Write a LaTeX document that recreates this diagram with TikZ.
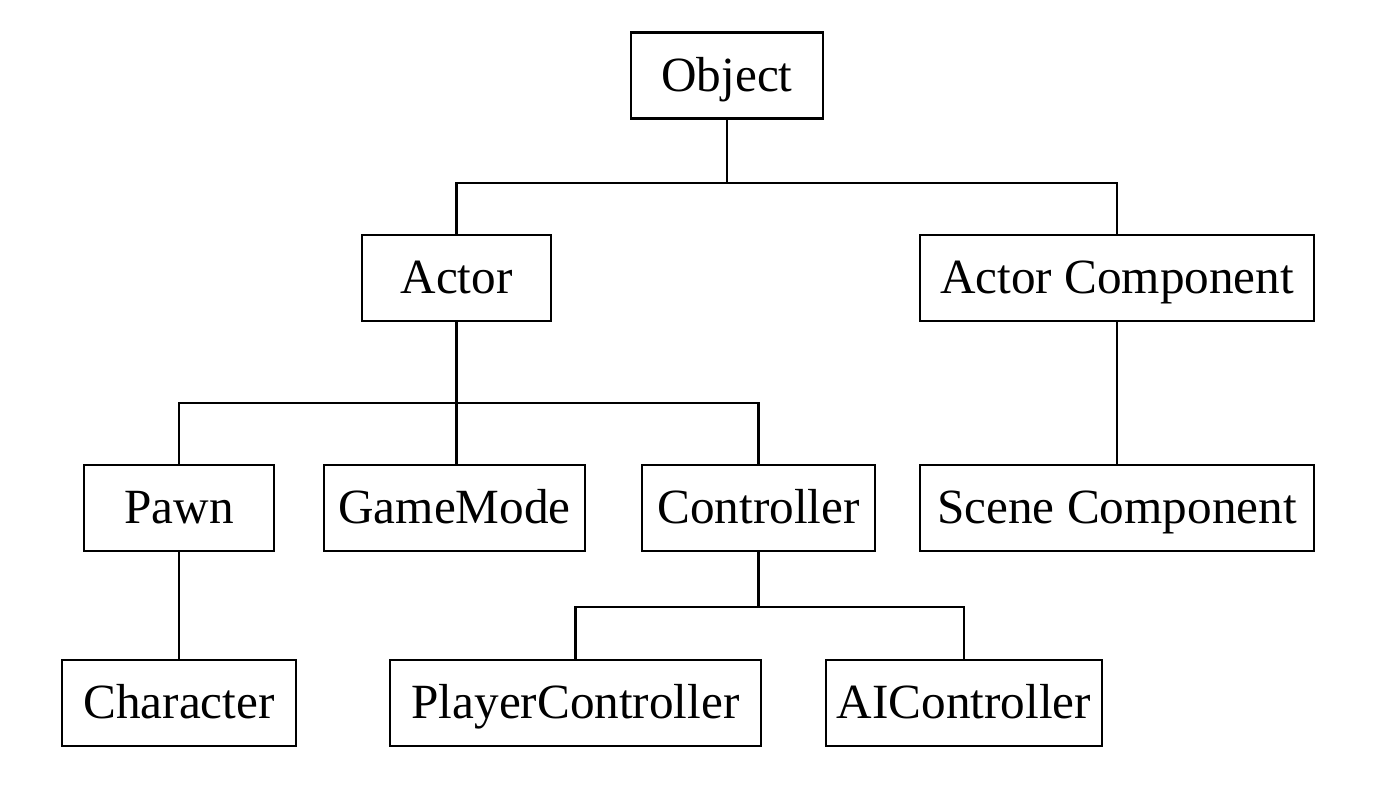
\documentclass[tikz,border=0pt]{standalone}
\usepackage{fontspec}
\setmainfont{Liberation Serif}
\usetikzlibrary{positioning}

\begin{document}
\begin{tikzpicture}[
  classbox/.style={rectangle, draw, line width=0.8pt,
                   minimum height=0.86cm, inner xsep=2pt,
                   text height=11pt, text depth=2pt,
                   font=\fontsize{14}{17}\selectfont},
  link/.style={line width=0.8pt},
]

% === Canvas (1400 x 792 px -> 14 x 7.92 cm) ===
\useasboundingbox (0,0) rectangle (14,7.92);

% === Level 0 ===
\node[classbox, minimum width=1.92cm] (obj) at (7.27, 7.165) {Object};

% === Level 1 ===
\node[classbox, minimum width=1.89cm] (actor) at (4.565, 5.14) {Actor};
\node[classbox, minimum width=3.94cm] (acomp) at (11.17, 5.14) {Actor Component};

% === Level 2 ===
\node[classbox, minimum width=1.90cm] (pawn) at (1.79, 2.84) {Pawn};
\node[classbox, minimum width=2.61cm] (gmode) at (4.545, 2.84) {GameMode};
\node[classbox, minimum width=2.33cm] (ctrl) at (7.585, 2.84) {Controller};
\node[classbox, minimum width=3.94cm] (scomp) at (11.17, 2.84) {Scene Component};

% === Level 3 ===
\node[classbox, minimum width=2.34cm] (chara) at (1.79, 0.89) {Character};
\node[classbox, minimum width=3.71cm] (pctrl) at (5.755, 0.89) {PlayerController};
\node[classbox, minimum width=2.76cm] (aictrl) at (9.64, 0.89) {AIController};

% === Bus levels ===
\coordinate (bus1) at (0, 6.09);
\coordinate (bus2) at (0, 3.89);
\coordinate (bus3) at (0, 1.85);

% === Connectors ===
\draw[link] (obj.south) -- (obj.south |- bus1);
\draw[link] (actor.north) |- (acomp.north |- bus1) -- (acomp.north);

\draw[link] (actor.south) -- (gmode.north -| actor.south);
\draw[link] (pawn.north) |- (ctrl.north |- bus2) -- (ctrl.north);

\draw[link] (pawn.south) -- (chara.north);
\draw[link] (acomp.south) -- (scomp.north);

\draw[link] (ctrl.south) -- (ctrl.south |- bus3);
\draw[link] (pctrl.north) |- (aictrl.north |- bus3) -- (aictrl.north);

\end{tikzpicture}
\end{document}
